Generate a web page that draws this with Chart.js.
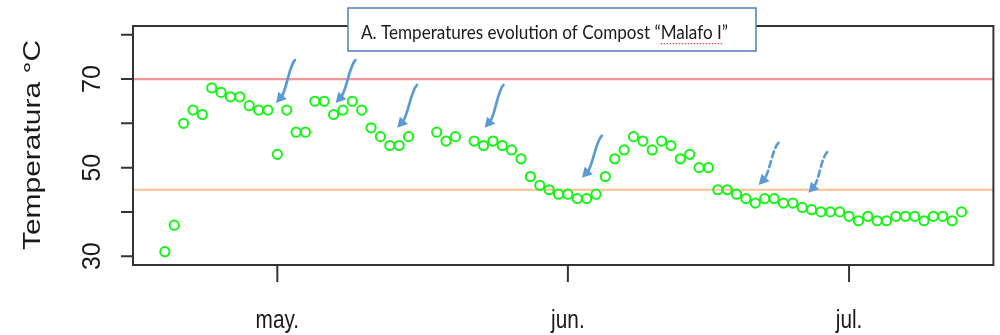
<!DOCTYPE html>
<html>
<head>
<meta charset="utf-8">
<script src="https://cdn.jsdelivr.net/npm/chart.js@4.4.1/dist/chart.umd.min.js"></script>
<style>
  html, body { margin: 0; padding: 0; background: #ffffff; }
  #wrap { width: 1000px; height: 335px; }
</style>
</head>
<body>
<div id="wrap"><canvas id="c" width="1000" height="335"></canvas></div>
<script>
// ---- data (day offsets from 1 May, temperature °C) ----
const days = [
  -12, -11, -10, -9, -8, -7, -6, -5, -4, -3, -2, -1, 0, 1, 2, 3,
  4, 5, 6, 7, 8, 9, 10, 11, 12, 13, 14,
  17, 18, 19,
  21, 22, 23, 24, 25, 26, 27, 28, 29, 30, 31, 32, 33, 34, 35, 36, 37, 38, 39,
  40, 41, 42, 43, 44, 45, 46, 47, 48, 49, 50, 51, 52, 53, 54, 55, 56, 57,
  58, 59, 60, 61, 62, 63, 64, 65, 66, 67, 68, 69, 70, 71, 72, 73
];
const temps = [
  31, 37, 60, 63, 62, 68, 67, 66, 66, 64, 63, 63, 53, 63, 58, 58,
  65, 65, 62, 63, 65, 63, 59, 57, 55, 55, 57,
  58, 56, 57,
  56, 55, 56, 55, 54, 52, 48, 46, 45, 44, 44, 43, 43, 44, 48, 52, 54, 57, 56,
  54, 56, 55, 52, 53, 50, 50, 45, 45, 44, 43, 42, 43, 43, 42, 42, 41, 40.5,
  40, 40, 40, 39, 38, 39, 38, 38, 39, 39, 39, 38, 39, 39, 38, 40
];
const xTickDays = [0, 31, 61];
const xTickLabels = ['may.', 'jun.', 'jul.'];
const yTicks = [30, 40, 50, 60, 70, 80];
const yLabelValues = [30, 50, 70];
const refLines = [70, 45];
const refColors = ['#f2959b', '#fbbf93'];
const xRange = [-15.4, 76.4];
const yRange = [28, 82];
const yTitle = 'Temperatura °C';
const chartTitle = 'A. Temperatures evolution of Compost “Malafo I”';
// annotation arrows: [day, value] start -> tip
const arrowFrom = [[1.88, 74.3], [8.34, 74.3], [14.91, 68.7], [24.13, 68.7], [34.62, 57.2], [53.48, 55.6], [58.67, 53.5]];
const arrowTo   = [[-0.14, 64.6], [6.22, 64.6], [12.79, 59.0], [22.12, 59.0], [32.5, 47.7], [51.36, 46.1], [56.66, 44.3]];
const arrowDashed = [false, false, false, false, false, true, true];

// ---- helpers ----
function drawText(ctx, s, x, y, o) {
  ctx.save();
  ctx.font = o.font;
  ctx.fillStyle = o.color || '#222';
  ctx.textAlign = o.align || 'center';
  ctx.textBaseline = 'alphabetic';
  let sx = o.sx || 1;
  if (o.width) sx = o.width / ctx.measureText(s).width;
  ctx.translate(x, y);
  if (o.rot) ctx.rotate(o.rot);
  ctx.scale(sx, o.sy || 1);
  ctx.fillText(s, 0, 0);
  ctx.restore();
  return sx;
}

const decor = {
  id: 'decor',
  afterDraw(chart) {
    const ctx = chart.ctx;
    const a = chart.chartArea;
    const xs = chart.scales.x, ys = chart.scales.y;
    ctx.save();
    // box
    ctx.strokeStyle = '#333';
    ctx.lineWidth = 2;
    ctx.strokeRect(a.left, a.top, a.right - a.left, a.bottom - a.top);
    // y ticks
    ctx.beginPath();
    yTicks.forEach(v => {
      const py = ys.getPixelForValue(v);
      ctx.moveTo(a.left - 12, py); ctx.lineTo(a.left, py);
    });
    // x ticks
    xTickDays.forEach(d => {
      const px = xs.getPixelForValue(d);
      ctx.moveTo(px, a.bottom); ctx.lineTo(px, a.bottom + 17);
    });
    ctx.stroke();
    // y tick labels (rotated)
    yLabelValues.forEach(v => {
      drawText(ctx, String(v), 100, ys.getPixelForValue(v), {font: '25px "Liberation Sans", Arial, sans-serif', rot: -Math.PI / 2, color: '#1a1a1a'});
    });
    // x tick labels
    xTickDays.forEach((d, i) => {
      drawText(ctx, xTickLabels[i], xs.getPixelForValue(d), 328, {font: '26px "Liberation Sans", Arial, sans-serif', sx: 0.8, color: '#1a1a1a'});
    });
    // y axis title
    drawText(ctx, yTitle, 40, 145, {font: '24px "Liberation Sans", Arial, sans-serif', rot: -Math.PI / 2, width: 210, color: '#1a1a1a'});

    // arrows
    ctx.strokeStyle = '#5b9bd5';
    ctx.fillStyle = '#5b9bd5';
    ctx.lineWidth = 2.7;
    ctx.lineCap = 'round';
    arrowFrom.forEach((f, i) => {
      const x0 = xs.getPixelForValue(f[0]), y0 = ys.getPixelForValue(f[1]);
      const x3 = xs.getPixelForValue(arrowTo[i][0]), y3 = ys.getPixelForValue(arrowTo[i][1]);
      const dx = x3 - x0, dy = y3 - y0;
      const x1 = x0 + dx * 0.32, y1 = y0 + dy * 0.14;
      const x2 = x0 + dx * 0.45, y2 = y0 + dy * 0.72;
      const ang = Math.atan2(y3 - y2, x3 - x2);
      const hl = 10, hw = 5.5;
      const bx = x3 - Math.cos(ang) * hl * 0.8, by = y3 - Math.sin(ang) * hl * 0.8;
      ctx.setLineDash(arrowDashed[i] ? [6, 4] : []);
      ctx.beginPath();
      ctx.moveTo(x0, y0);
      ctx.bezierCurveTo(x1, y1, x2, y2, bx, by);
      ctx.stroke();
      ctx.setLineDash([]);
      ctx.beginPath();
      ctx.moveTo(x3, y3);
      ctx.lineTo(x3 - Math.cos(ang) * hl - Math.sin(ang) * hw, y3 - Math.sin(ang) * hl + Math.cos(ang) * hw);
      ctx.lineTo(x3 - Math.cos(ang) * hl + Math.sin(ang) * hw, y3 - Math.sin(ang) * hl - Math.cos(ang) * hw);
      ctx.closePath();
      ctx.fill();
    });

    // title box
    ctx.fillStyle = '#ffffff';
    ctx.fillRect(348, 8, 408, 43);
    ctx.strokeStyle = '#4f7fb8';
    ctx.lineWidth = 1.5;
    ctx.strokeRect(348, 8, 408, 43);
    const font = '18.5px Lato, "Open Sans", sans-serif';
    const sx = drawText(ctx, chartTitle, 361, 39, {font: font, align: 'left', width: 367, color: '#1a1a1a'});
    // spell-check underline under Malafo I
    ctx.font = font;
    const pre = chartTitle.slice(0, chartTitle.indexOf('Malafo'));
    const ux0 = 361 + ctx.measureText(pre).width * sx;
    const ux1 = ux0 + ctx.measureText('Malafo I').width * sx;
    ctx.fillStyle = '#e04848';
    for (let x = ux0; x < ux1; x += 3) ctx.fillRect(x, 43, 1.5, 1.2);
    ctx.restore();
  }
};

const scatterData = days.map((d, i) => ({x: d, y: temps[i]}));
const refDatasets = refLines.map((v, i) => ({
  type: 'line',
  data: [{x: xRange[0], y: v}, {x: xRange[1], y: v}],
  borderColor: refColors[i],
  borderWidth: 2.2,
  pointRadius: 0,
  order: 2
}));

new Chart(document.getElementById('c'), {
  type: 'scatter',
  data: {
    datasets: [{
      data: scatterData,
      borderColor: '#14f514',
      backgroundColor: 'rgba(0,0,0,0)',
      borderWidth: 2,
      pointRadius: 4.6,
      pointHoverRadius: 4.6,
      order: 1
    }].concat(refDatasets)
  },
  options: {
    responsive: false,
    devicePixelRatio: 1,
    animation: false,
    layout: { padding: { left: 133, right: 1, top: 26, bottom: 70 } },
    plugins: { legend: { display: false }, tooltip: { enabled: false }, title: { display: false } },
    scales: {
      x: { type: 'linear', min: xRange[0], max: xRange[1], display: false },
      y: { type: 'linear', min: yRange[0], max: yRange[1], display: false }
    }
  },
  plugins: [decor]
});
</script>
</body>
</html>
